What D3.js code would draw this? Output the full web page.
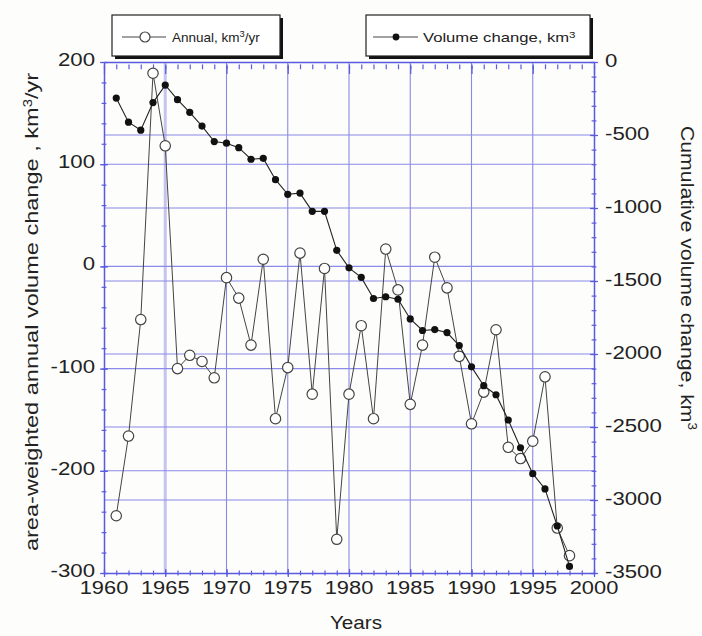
<!DOCTYPE html>
<html>
<head>
<meta charset="utf-8">
<script src="https://cdn.jsdelivr.net/npm/d3@7"></script>
<style>
  html, body { margin: 0; padding: 0; background: #fdfdfb; }
  svg { display: block; }
  text { font-family: "Liberation Sans", Arial, sans-serif; fill: #222; }
</style>
</head>
<body>
<svg id="chart" width="702" height="636"></svg>
<script>
// Glacier volume change, 1961-1998
const years = [1961,1962,1963,1964,1965,1966,1967,1968,1969,1970,
               1971,1972,1973,1974,1975,1976,1977,1978,1979,1980,
               1981,1982,1983,1984,1985,1986,1987,1988,1989,1990,
               1991,1992,1993,1994,1995,1996,1997,1998];
// area-weighted annual volume change, km3/yr
const annual = [-244,-166,-52,189,118,-100,-87,-93,-109,-11,
                -31,-77,7,-149,-99,13,-125,-2,-267,-125,
                -58,-149,17,-23,-135,-77,9,-21,-88,-154,
                -123,-62,-177,-188,-171,-108,-256,-283];
// cumulative volume change, km3
const cumulative = [-247,-412,-467,-278,-158,-258,-345,-439,-545,-556,
                    -587,-666,-660,-806,-906,-898,-1023,-1023,-1290,-1410,
                    -1475,-1620,-1608,-1625,-1760,-1839,-1833,-1853,-1942,-2088,
                    -2217,-2279,-2452,-2642,-2820,-2924,-3178,-3455];
const xTicks = [1960,1965,1970,1975,1980,1985,1990,1995,2000];
const leftTicks = [200,100,0,-100,-200,-300];
const rightTicks = [0,-500,-1000,-1500,-2000,-2500,-3000,-3500];

const svg = d3.select("#chart");
const L = 104, R = 594, T = 62, B = 573;
const axisColor = "#5a5ae0";
const gridColor = "#8a8ae8";

const x = d3.scaleLinear().domain([1960, 2000]).range([L, R]);
const yL = d3.scaleLinear().domain([-300, 200]).range([B, T]);
const yR = d3.scaleLinear().domain([-3500, 0]).range([B, T]);

// grid
const grid = svg.append("g").attr("class", "grid");
grid.selectAll("line.gx").data(xTicks.slice(1, -1)).join("line")
  .attr("x1", d => x(d)).attr("x2", d => x(d)).attr("y1", T).attr("y2", B)
  .attr("stroke", d => d === 1965 ? "#c4c4f0" : gridColor)
  .attr("stroke-width", d => d === 1965 ? 3 : 1.1);
grid.selectAll("line.gl").data(leftTicks.slice(1, -1)).join("line")
  .attr("x1", L).attr("x2", R).attr("y1", d => yL(d)).attr("y2", d => yL(d))
  .attr("stroke", gridColor).attr("stroke-width", 1.1);
grid.selectAll("line.gr").data(rightTicks.slice(1, -1)).join("line")
  .attr("class", "gr")
  .attr("x1", L).attr("x2", R).attr("y1", d => yR(d)).attr("y2", d => yR(d))
  .attr("stroke", gridColor).attr("stroke-width", 1.1);

// axes: ticks cross the frame lines
function styleAxis(g) {
  g.select(".domain").attr("stroke", axisColor).attr("stroke-width", 1.5);
  g.selectAll(".tick line").attr("stroke", axisColor).attr("stroke-width", 1.2);
  g.selectAll(".tick text").remove();
}
function axisPair(axisFn, scale, major, minor, pos, transform, len) {
  const gMinor = svg.append("g").attr("transform", transform)
    .call(axisFn(scale).tickValues(minor).tickSize(len * 0.6).tickSizeOuter(0));
  styleAxis(gMinor);
  gMinor.select(".domain").remove();
  gMinor.selectAll(".tick line").attr("transform", pos === "v" ? `translate(${-len*0.3},0)` : `translate(0,${-len*0.3})`);
  const gMajor = svg.append("g").attr("transform", transform)
    .call(axisFn(scale).tickValues(major).tickSize(len).tickSizeOuter(0));
  styleAxis(gMajor);
  gMajor.selectAll(".tick line").attr("transform", pos === "v" ? `translate(${-len/2},0)` : `translate(0,${-len/2})`);
}
const xMinor = d3.range(1960, 2001, 1);
axisPair(d3.axisBottom, x, xTicks, xMinor, "h", `translate(0,${B})`, 8);
axisPair(d3.axisTop, x, xTicks, xMinor, "h", `translate(0,${T})`, -8);
axisPair(d3.axisRight, yL, leftTicks, d3.range(-300, 201, 20), "v", `translate(${L},0)`, 8);
axisPair(d3.axisRight, yR, rightTicks, d3.range(-3500, 1, 100), "v", `translate(${R},0)`, 8);

// tick labels
const lab = svg.append("g").attr("font-size", 18.5);
lab.selectAll("text.xl").data(xTicks).join("text")
  .attr("text-anchor", "middle")
  .attr("transform", d => `translate(${x(d)},${B + 21}) scale(1.18,1)`)
  .text(d => d);
lab.selectAll("text.yl").data(leftTicks).join("text")
  .attr("class", "yl")
  .attr("text-anchor", "end")
  .attr("transform", d => `translate(${L - 9},${yL(d) + 4}) scale(1.2,1)`)
  .text(d => d);
lab.selectAll("text.yr").data(rightTicks).join("text")
  .attr("class", "yr")
  .attr("text-anchor", "start")
  .attr("transform", d => `translate(${R + 11},${yR(d) + 5}) scale(1.2,1)`)
  .text(d => d);

// axis titles
svg.append("text").attr("text-anchor", "middle").attr("font-size", 18)
  .attr("transform", `translate(356,629) scale(1.15,1)`).text("Years");
const lt = svg.append("text").attr("text-anchor", "middle").attr("font-size", 19)
  .attr("transform", "translate(38,312) rotate(-90) scale(1.24,1)");
lt.append("tspan").text("area-weighted annual volume change , km");
lt.append("tspan").attr("baseline-shift", "super").attr("font-size", 12).text("3");
lt.append("tspan").text("/yr");
const rt = svg.append("text").attr("text-anchor", "middle").attr("font-size", 19)
  .attr("transform", "translate(681,278) rotate(90) scale(1.12,1)");
rt.append("tspan").text("Cumulative volume change, km");
rt.append("tspan").attr("baseline-shift", "super").attr("font-size", 12).text("3");

// annual series: open circles
const lineA = d3.line().x((d, i) => x(years[i])).y(d => yL(d));
svg.append("path").datum(annual).attr("d", lineA)
  .attr("fill", "none").attr("stroke", "#444").attr("stroke-width", 1);
svg.selectAll("circle.a").data(annual).join("circle")
  .attr("class", "a")
  .attr("cx", (d, i) => x(years[i])).attr("cy", d => yL(d)).attr("r", 5.2)
  .attr("fill", "#fff").attr("stroke", "#444").attr("stroke-width", 1.2);

// cumulative series: filled dots
const lineC = d3.line().x((d, i) => x(years[i])).y(d => yR(d));
svg.append("path").datum(cumulative).attr("d", lineC)
  .attr("fill", "none").attr("stroke", "#222").attr("stroke-width", 1.1);
svg.selectAll("circle.c").data(cumulative).join("circle")
  .attr("class", "c")
  .attr("cx", (d, i) => x(years[i])).attr("cy", d => yR(d)).attr("r", 3.6)
  .attr("fill", "#111");

// legends
function legendBox(bx, by, bw, bh) {
  svg.append("rect").attr("x", bx + 3).attr("y", by + 3).attr("width", bw).attr("height", bh)
    .attr("fill", "#111");
  svg.append("rect").attr("x", bx).attr("y", by).attr("width", bw).attr("height", bh)
    .attr("fill", "#fff").attr("stroke", "#222").attr("stroke-width", 1.2);
}
legendBox(112, 15, 168, 41);
svg.append("line").attr("x1", 122).attr("x2", 166).attr("y1", 37).attr("y2", 37)
  .attr("stroke", "#444");
svg.append("circle").attr("cx", 145).attr("cy", 37).attr("r", 5)
  .attr("fill", "#fff").attr("stroke", "#444").attr("stroke-width", 1.2);
const t1 = svg.append("text").attr("font-size", 13).attr("fill", "#444")
  .attr("transform", "translate(172,42) scale(1.04,1)");
t1.append("tspan").text("Annual, km");
t1.append("tspan").attr("baseline-shift", "super").attr("font-size", 9).text("3");
t1.append("tspan").text("/yr");

legendBox(366, 15, 224, 41);
svg.append("line").attr("x1", 373).attr("x2", 418).attr("y1", 37).attr("y2", 37)
  .attr("stroke", "#444");
svg.append("circle").attr("cx", 396).attr("cy", 37).attr("r", 3.4).attr("fill", "#111");
const t2 = svg.append("text").attr("font-size", 13).attr("fill", "#444")
  .attr("transform", "translate(423,42) scale(1.28,1)");
t2.append("tspan").text("Volume change, km");
t2.append("tspan").attr("baseline-shift", "super").attr("font-size", 9).text("3");
</script>
</body>
</html>
